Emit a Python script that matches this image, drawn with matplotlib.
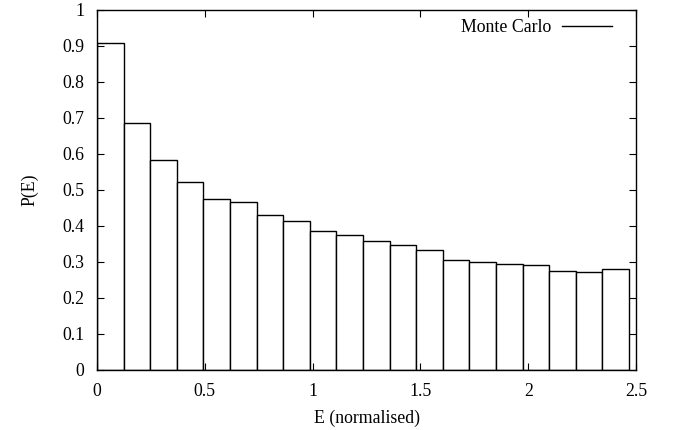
import matplotlib
matplotlib.use("Agg")
import matplotlib.pyplot as plt
from matplotlib.lines import Line2D
import numpy as np

plt.rcParams['font.family'] = ['Liberation Serif', 'DejaVu Serif']

bin_width = 0.1234
heights = [0.909, 0.686, 0.582, 0.523, 0.474, 0.467, 0.430, 0.413, 0.387, 0.376,
           0.357, 0.347, 0.333, 0.306, 0.299, 0.294, 0.292, 0.276, 0.272, 0.281]
x_ticks = [0, 0.5, 1, 1.5, 2, 2.5]
x_tick_labels = ['0', '0.5', '1', '1.5', '2', '2.5']
y_ticks = [0, 0.1, 0.2, 0.3, 0.4, 0.5, 0.6, 0.7, 0.8, 0.9, 1]
y_tick_labels = ['0', '0.1', '0.2', '0.3', '0.4', '0.5', '0.6', '0.7', '0.8', '0.9', '1']

lefts = np.arange(len(heights)) * bin_width

fig = plt.figure(figsize=(6.78, 4.30), dpi=100)
ax = fig.add_axes([97/678, 60/430, (636-97)/678, (370-10)/430])

ax.bar(lefts, heights, width=bin_width, align='edge', facecolor='white',
       edgecolor='black', linewidth=1.0)

ax.set_xlim(0, 2.5)
ax.set_ylim(0, 1)
ax.set_xticks(x_ticks)
ax.set_xticklabels(x_tick_labels)
ax.set_yticks(y_ticks)
ax.set_yticklabels(y_tick_labels)
ax.tick_params(direction='in', top=True, right=True, length=5, width=0.8,
               labelsize=12.8, pad=9)
for s in ax.spines.values():
    s.set_linewidth(1.0)

ax.set_xlabel('E (normalised)', fontsize=12.8, labelpad=7)
ax.set_ylabel('P(E)', fontsize=12.8, labelpad=17)

h = Line2D([], [], color='black', linewidth=1.0)
ax.legend([h], ['Monte Carlo'], loc='upper right', frameon=False, markerfirst=False,
          fontsize=12.8, handlelength=2.8, handletextpad=0.6, borderaxespad=0.2,
          bbox_to_anchor=(0.975, 1.005))

fig.savefig('out.png', dpi=100)
